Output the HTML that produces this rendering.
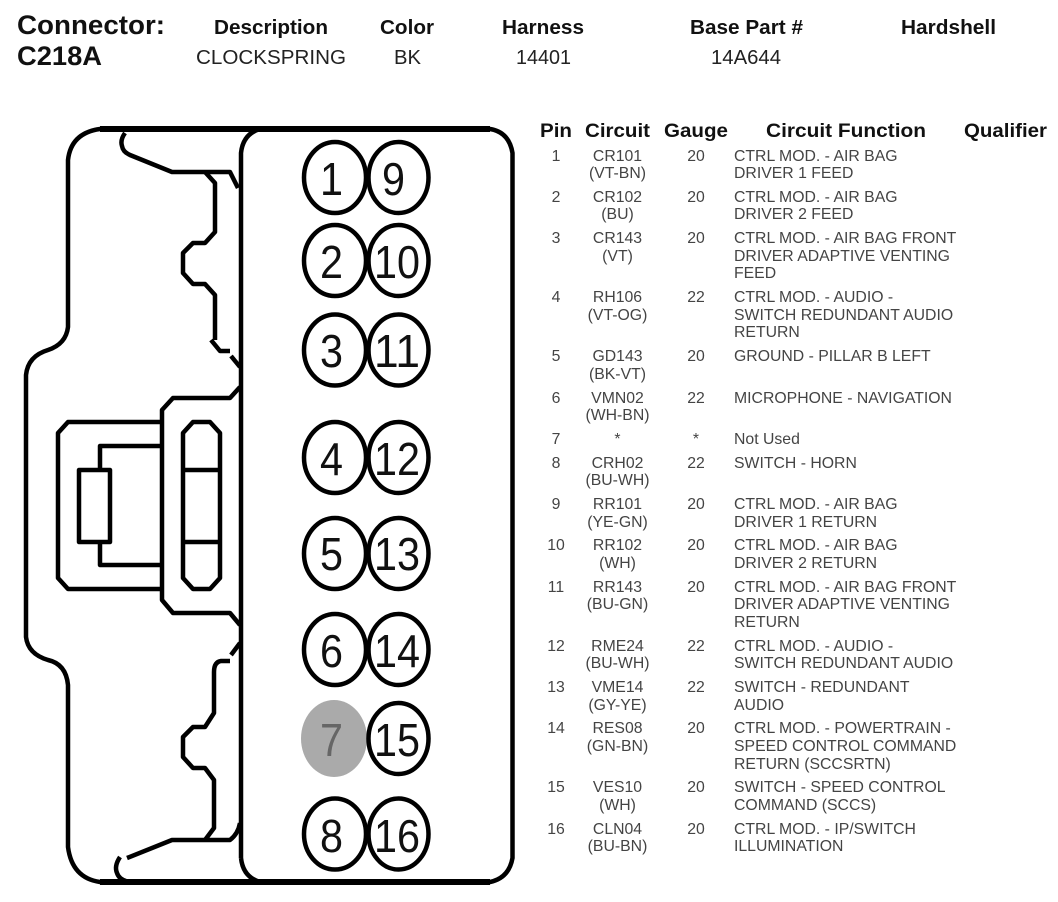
<!DOCTYPE html>
<html>
<head>
<meta charset="utf-8">
<style>
html,body{margin:0;padding:0;background:#fff;width:1058px;height:902px;overflow:hidden}
svg{display:block}
text{font-family:"Liberation Sans",sans-serif}
.h{font-weight:bold;fill:#111}
.v{fill:#222}
.t{font-size:15.8px;fill:#444}
.m{text-anchor:middle}
.d{font-size:46px;fill:#111}
.o{fill:none;stroke:#000;stroke-width:4.5;stroke-linejoin:round}
</style>
</head>
<body>
<svg width="1058" height="902" viewBox="0 0 1058 902" xmlns="http://www.w3.org/2000/svg">
<rect width="1058" height="902" fill="#fff"/>

<!-- Header -->
<text class="h" x="17" y="34" font-size="27" textLength="148" lengthAdjust="spacingAndGlyphs">Connector:</text>
<text class="h" x="17" y="65" font-size="27" textLength="85" lengthAdjust="spacingAndGlyphs">C218A</text>
<text class="h" x="214" y="34" font-size="20" textLength="114" lengthAdjust="spacingAndGlyphs">Description</text>
<text class="h" x="380" y="34" font-size="20" textLength="54" lengthAdjust="spacingAndGlyphs">Color</text>
<text class="h" x="502" y="34" font-size="20" textLength="82" lengthAdjust="spacingAndGlyphs">Harness</text>
<text class="h" x="690" y="34" font-size="20" textLength="113" lengthAdjust="spacingAndGlyphs">Base Part #</text>
<text class="h" x="901" y="34" font-size="20" textLength="95" lengthAdjust="spacingAndGlyphs">Hardshell</text>
<text class="v" x="196" y="64" font-size="20" textLength="150" lengthAdjust="spacingAndGlyphs">CLOCKSPRING</text>
<text class="v" x="394" y="64" font-size="20" textLength="27" lengthAdjust="spacingAndGlyphs">BK</text>
<text class="v" x="516" y="64" font-size="20" textLength="55" lengthAdjust="spacingAndGlyphs">14401</text>
<text class="v" x="711" y="64" font-size="20" textLength="70" lengthAdjust="spacingAndGlyphs">14A644</text>

<!-- Table header -->
<text class="h" x="540" y="137" font-size="19" textLength="32" lengthAdjust="spacingAndGlyphs">Pin</text>
<text class="h" x="585" y="137" font-size="19" textLength="65" lengthAdjust="spacingAndGlyphs">Circuit</text>
<text class="h" x="664" y="137" font-size="19" textLength="64" lengthAdjust="spacingAndGlyphs">Gauge</text>
<text class="h" x="766" y="137" font-size="19" textLength="160" lengthAdjust="spacingAndGlyphs">Circuit Function</text>
<text class="h" x="964" y="137" font-size="19" textLength="83" lengthAdjust="spacingAndGlyphs">Qualifier</text>

<!-- Connector outline -->
<g class="o">
<path class="o" d="M130 129 H490 Q509 132 512.5 153 V858 Q509 878 490 882 H100 Q72 878 68 847 V685 Q66 664 48 660 Q28 654 26 637 V375 Q28 356 48 350 Q66 344 68 327 V160 Q71 133 100 129 H130"/>
<path class="o" d="M241 858 V153 Q243 134 260 129 M241 858 Q243 877 260 882" />
<path class="o" d="M125 133 Q120 140 122 146 Q123 152 130 155 L172 172 H230 L238 188"/>
<path class="o" d="M205 172 L215 183 V232 L205 243 H193 L183 253 V273 L193 284 H205 L215 295 V340"/>
<path class="o" d="M211 340 L220 351 H230"/>
<path class="o" d="M231 356 L240 367"/>
<path class="o" d="M240 387 L230 398 H173 L162 410 V600 L173 613 H230 L240 625"/>
<path class="o" d="M162 422 H68 L58 433 V578 L68 589 H162"/>
<path class="o" d="M162 446 H100 V470"/>
<rect class="o" x="79" y="470" width="31" height="72"/>
<path class="o" d="M100 542 V565 H162"/>
<path class="o" d="M193 422 H210 L220 433 V578 L210 589 H193 L183 578 V433 Z"/>
<path class="o" d="M183 470 H220 M183 542 H220"/>
<path class="o" d="M240 643 L231 655"/>
<path class="o" d="M230 661 H221 Q214 662 214 672 V713 L205 727 H193 L183 737 V757 L193 768 H205 L214 780 V828 L205 840"/>
<path class="o" d="M127 858 L172 840 H230 Q238 834 240 823"/>
<path class="o" d="M120 857 Q114 866 117 873 Q119 879 126 881"/>
</g>

<!-- Top/bottom thicker edge -->
<path d="M100 129 H490" stroke="#000" stroke-width="6" fill="none"/>
<path d="M100 882 H490" stroke="#000" stroke-width="6" fill="none"/>

<!-- Pins -->
<g fill="#fff" stroke="#000" stroke-width="4.5">
<ellipse cx="335" cy="177.5" rx="31" ry="35.5"/><ellipse cx="398.5" cy="177.5" rx="30" ry="35.5"/>
<ellipse cx="335" cy="260.5" rx="31" ry="35.5"/><ellipse cx="398.5" cy="260.5" rx="30" ry="35.5"/>
<ellipse cx="335" cy="350" rx="31" ry="35.5"/><ellipse cx="398.5" cy="350" rx="30" ry="35.5"/>
<ellipse cx="335" cy="457.5" rx="31" ry="35.5"/><ellipse cx="398.5" cy="457.5" rx="30" ry="35.5"/>
<ellipse cx="335" cy="553.5" rx="31" ry="35.5"/><ellipse cx="398.5" cy="553.5" rx="30" ry="35.5"/>
<ellipse cx="335" cy="649.5" rx="31" ry="35.5"/><ellipse cx="398.5" cy="649.5" rx="30" ry="35.5"/>
<ellipse cx="334" cy="738.5" rx="33" ry="38.5" fill="#aaa" stroke="none"/><ellipse cx="398.5" cy="738.5" rx="30" ry="35.5"/>
<ellipse cx="335" cy="834" rx="31" ry="35.5"/><ellipse cx="398.5" cy="834" rx="30" ry="35.5"/>
</g>
<g>
<text class="d" x="320" y="195" textLength="23" lengthAdjust="spacingAndGlyphs">1</text><text class="d" x="382" y="195" textLength="23" lengthAdjust="spacingAndGlyphs">9</text>
<text class="d" x="320" y="278" textLength="23" lengthAdjust="spacingAndGlyphs">2</text><text class="d" x="374" y="278" textLength="46" lengthAdjust="spacingAndGlyphs">10</text>
<text class="d" x="320" y="367" textLength="23" lengthAdjust="spacingAndGlyphs">3</text><text class="d" x="374" y="367" textLength="46" lengthAdjust="spacingAndGlyphs">11</text>
<text class="d" x="320" y="475" textLength="23" lengthAdjust="spacingAndGlyphs">4</text><text class="d" x="374" y="475" textLength="46" lengthAdjust="spacingAndGlyphs">12</text>
<text class="d" x="320" y="570" textLength="23" lengthAdjust="spacingAndGlyphs">5</text><text class="d" x="374" y="570" textLength="46" lengthAdjust="spacingAndGlyphs">13</text>
<text class="d" x="320" y="667" textLength="23" lengthAdjust="spacingAndGlyphs">6</text><text class="d" x="374" y="667" textLength="46" lengthAdjust="spacingAndGlyphs">14</text>
<text class="d" x="320" y="756" textLength="23" lengthAdjust="spacingAndGlyphs" style="fill:#666">7</text><text class="d" x="374" y="756" textLength="46" lengthAdjust="spacingAndGlyphs">15</text>
<text class="d" x="320" y="852" textLength="23" lengthAdjust="spacingAndGlyphs">8</text><text class="d" x="374" y="852" textLength="46" lengthAdjust="spacingAndGlyphs">16</text>
</g>

<!-- Table rows -->
<g class="t" transform="translate(0,-1)">
<text class="t m" x="556" y="162">1</text><text class="t m" x="617.5" y="162">CR101</text><text class="t m" x="696" y="162">20</text><text class="t" x="734" y="162">CTRL MOD. - AIR BAG</text>
<text class="t m" x="617.5" y="179">(VT-BN)</text><text class="t" x="734" y="179">DRIVER 1 FEED</text>

<text class="t m" x="556" y="203">2</text><text class="t m" x="617.5" y="203">CR102</text><text class="t m" x="696" y="203">20</text><text class="t" x="734" y="203">CTRL MOD. - AIR BAG</text>
<text class="t m" x="617.5" y="220">(BU)</text><text class="t" x="734" y="220">DRIVER 2 FEED</text>

<text class="t m" x="556" y="244">3</text><text class="t m" x="617.5" y="244">CR143</text><text class="t m" x="696" y="244">20</text><text class="t" x="734" y="244">CTRL MOD. - AIR BAG FRONT</text>
<text class="t m" x="617.5" y="262">(VT)</text><text class="t" x="734" y="262">DRIVER ADAPTIVE VENTING</text>
<text class="t" x="734" y="279">FEED</text>

<text class="t m" x="556" y="303">4</text><text class="t m" x="617.5" y="303">RH106</text><text class="t m" x="696" y="303">22</text><text class="t" x="734" y="303">CTRL MOD. - AUDIO -</text>
<text class="t m" x="617.5" y="321">(VT-OG)</text><text class="t" x="734" y="321">SWITCH REDUNDANT AUDIO</text>
<text class="t" x="734" y="338">RETURN</text>

<text class="t m" x="556" y="362">5</text><text class="t m" x="617.5" y="362">GD143</text><text class="t m" x="696" y="362">20</text><text class="t" x="734" y="362">GROUND - PILLAR B LEFT</text>
<text class="t m" x="617.5" y="380">(BK-VT)</text>

<text class="t m" x="556" y="404">6</text><text class="t m" x="617.5" y="404">VMN02</text><text class="t m" x="696" y="404">22</text><text class="t" x="734" y="404">MICROPHONE - NAVIGATION</text>
<text class="t m" x="617.5" y="421">(WH-BN)</text>

<text class="t m" x="556" y="445">7</text><text class="t m" x="617.5" y="445">*</text><text class="t m" x="696" y="445">*</text><text class="t" x="734" y="445">Not Used</text>

<text class="t m" x="556" y="469">8</text><text class="t m" x="617.5" y="469">CRH02</text><text class="t m" x="696" y="469">22</text><text class="t" x="734" y="469">SWITCH - HORN</text>
<text class="t m" x="617.5" y="486">(BU-WH)</text>

<text class="t m" x="556" y="510">9</text><text class="t m" x="617.5" y="510">RR101</text><text class="t m" x="696" y="510">20</text><text class="t" x="734" y="510">CTRL MOD. - AIR BAG</text>
<text class="t m" x="617.5" y="528">(YE-GN)</text><text class="t" x="734" y="528">DRIVER 1 RETURN</text>

<text class="t m" x="556" y="551">10</text><text class="t m" x="617.5" y="551">RR102</text><text class="t m" x="696" y="551">20</text><text class="t" x="734" y="551">CTRL MOD. - AIR BAG</text>
<text class="t m" x="617.5" y="569">(WH)</text><text class="t" x="734" y="569">DRIVER 2 RETURN</text>

<text class="t m" x="556" y="593">11</text><text class="t m" x="617.5" y="593">RR143</text><text class="t m" x="696" y="593">20</text><text class="t" x="734" y="593">CTRL MOD. - AIR BAG FRONT</text>
<text class="t m" x="617.5" y="610">(BU-GN)</text><text class="t" x="734" y="610">DRIVER ADAPTIVE VENTING</text>
<text class="t" x="734" y="628">RETURN</text>

<text class="t m" x="556" y="652">12</text><text class="t m" x="617.5" y="652">RME24</text><text class="t m" x="696" y="652">22</text><text class="t" x="734" y="652">CTRL MOD. - AUDIO -</text>
<text class="t m" x="617.5" y="669">(BU-WH)</text><text class="t" x="734" y="669">SWITCH REDUNDANT AUDIO</text>

<text class="t m" x="556" y="693">13</text><text class="t m" x="617.5" y="693">VME14</text><text class="t m" x="696" y="693">22</text><text class="t" x="734" y="693">SWITCH - REDUNDANT</text>
<text class="t m" x="617.5" y="711">(GY-YE)</text><text class="t" x="734" y="711">AUDIO</text>

<text class="t m" x="556" y="734">14</text><text class="t m" x="617.5" y="734">RES08</text><text class="t m" x="696" y="734">20</text><text class="t" x="734" y="734">CTRL MOD. - POWERTRAIN -</text>
<text class="t m" x="617.5" y="752">(GN-BN)</text><text class="t" x="734" y="752">SPEED CONTROL COMMAND</text>
<text class="t" x="734" y="770">RETURN (SCCSRTN)</text>

<text class="t m" x="556" y="793">15</text><text class="t m" x="617.5" y="793">VES10</text><text class="t m" x="696" y="793">20</text><text class="t" x="734" y="793">SWITCH - SPEED CONTROL</text>
<text class="t m" x="617.5" y="811">(WH)</text><text class="t" x="734" y="811">COMMAND (SCCS)</text>

<text class="t m" x="556" y="835">16</text><text class="t m" x="617.5" y="835">CLN04</text><text class="t m" x="696" y="835">20</text><text class="t" x="734" y="835">CTRL MOD. - IP/SWITCH</text>
<text class="t m" x="617.5" y="852">(BU-BN)</text><text class="t" x="734" y="852">ILLUMINATION</text>
</g>
</svg>
</body>
</html>
